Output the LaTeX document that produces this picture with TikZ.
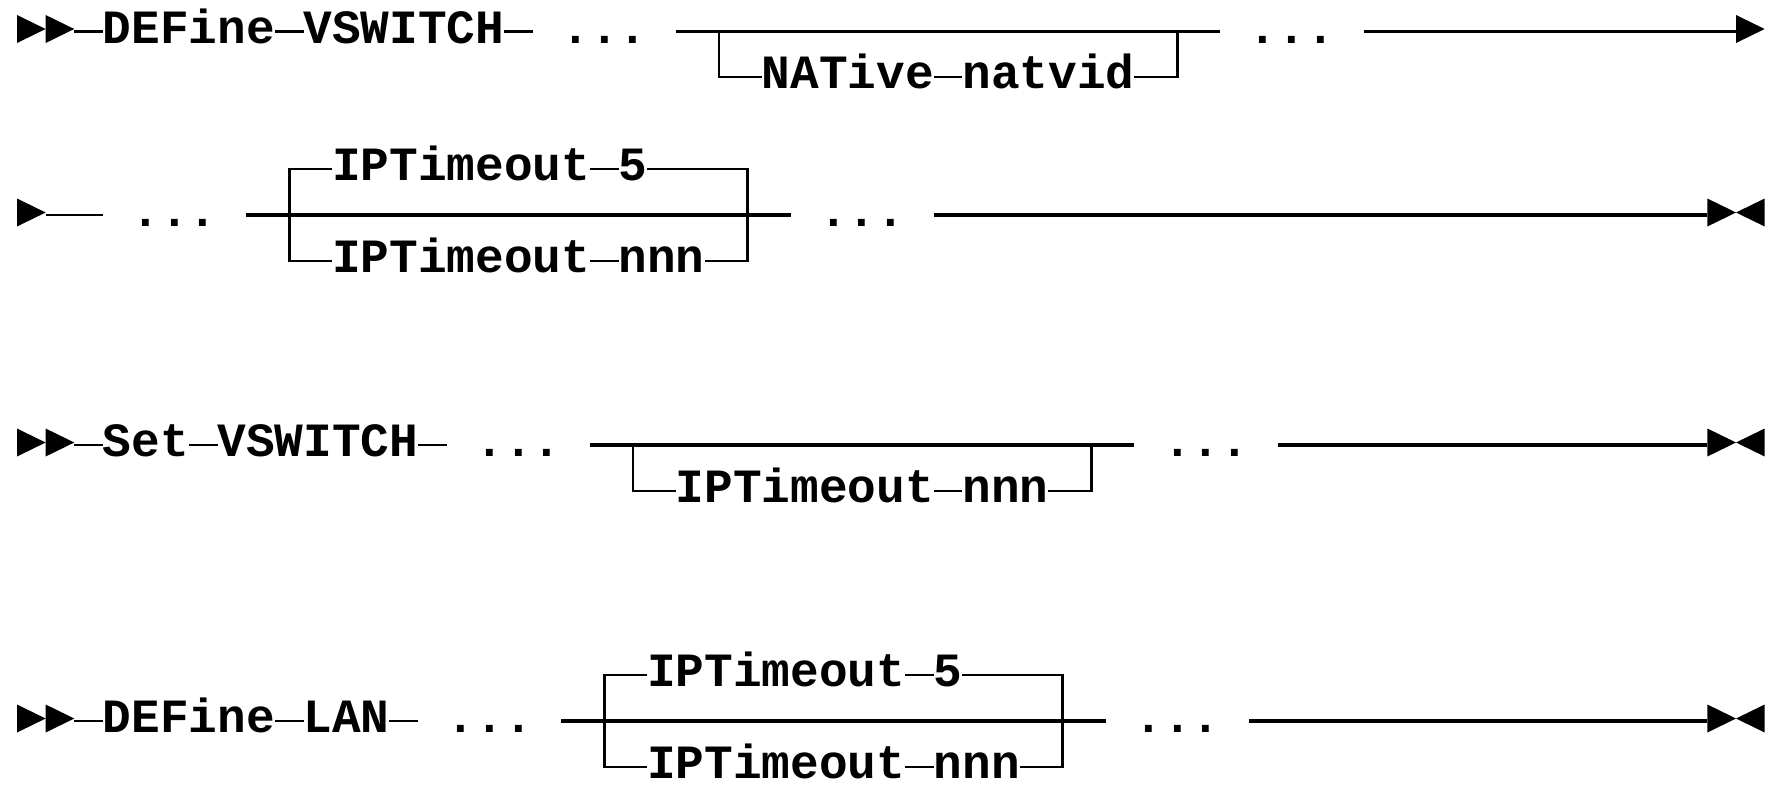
\documentclass[tikz,border=0pt]{standalone}
\usepackage{fontspec}
\newfontfamily\diagfont{Liberation Mono}
\def\cw{14.325pt}
\newcommand\rtri[2]{\fill (#1,#2-16.5) -- (#1+1,#2-2.5) -- (#1,#2+11.5) -- cycle;}
\newcommand\ltri[2]{\fill (#1+1,#2-16.5) -- (#1,#2-2.5) -- (#1+1,#2+11.5) -- cycle;}
\tikzset{
  kw/.style={inner sep=0pt, outer sep=0pt, anchor=west, text height=11.5pt, text depth=0pt,
    font=\diagfont\bfseries\fontsize{23.875pt}{28pt}\selectfont},
  mainln/.style={line width=1.8pt},
  dashln/.style={line width=1.4pt},
  branchln/.style={line width=1.4pt}
}
\begin{document}
\begin{tikzpicture}[x=14.325pt,y=-0.5pt]
\useasboundingbox (-0.5934,0) rectangle (61.361,793);

% ---------- Line 1 ----------
\rtri{0}{31.5}\rtri{1}{31.5}
\coordinate (a0) at (2,31.5);
\node[kw] (a1) at (3,31.5) {DEFine};
\node[kw] (a2) at (10,31.5) {VSWITCH};
\coordinate (a2e) at (18,31.5);
\node[kw] (a3) at (19,31.5) {...};
\node[kw] (a4) at (43,31.5) {...};
\node[kw] (a5) at (26,77) {NATive};
\node[kw] (a6) at (33,77) {natvid};
\coordinate (a8) at (24.5,31.5);
\coordinate (a9) at (40.5,31.5);
\coordinate (a7) at (60,31.5);
\draw[dashln] (a0) -- (a1) (a1) -- (a2) (a2) -- (a2e);
\draw[mainln] ([xshift=\cw]a3.east) -- ([xshift=-\cw]a4.west);
\draw[branchln] (a8) |- (a5);
\draw[dashln] (a5) -- (a6);
\draw[branchln] (a6) -| (a9);
\draw[mainln] ([xshift=\cw]a4.east) -- (a7);
\rtri{60}{31.5}

% ---------- Line 2 ----------
\rtri{0}{215}
\coordinate (b0) at (1,215);
\node[kw] (b1) at (4,215) {...};
\node[kw] (b2) at (28,215) {...};
\coordinate (b3) at (9.5,215);
\coordinate (b4) at (25.5,215);
\node[kw] (b5) at (11,169) {IPTimeout};
\node[kw] (b6) at (21,169) {5};
\node[kw] (b7) at (11,261) {IPTimeout};
\node[kw] (b8) at (21,261) {nnn};
\coordinate (b9) at (59,215);
\draw[dashln] (b0) -- ([xshift=-\cw]b1.west);
\draw[mainln] ([xshift=\cw]b1.east) -- ([xshift=-\cw]b2.west);
\draw[branchln] (b5) -| (b3) |- (b7);
\draw[dashln] (b5) -- (b6) (b7) -- (b8);
\draw[branchln] (b6) -| (b4) |- (b8);
\draw[mainln] ([xshift=\cw]b2.east) -- (b9);
\rtri{59}{215}\ltri{60}{215}

% ---------- Line 3 ----------
\rtri{0}{445}\rtri{1}{445}
\coordinate (c0) at (2,445);
\node[kw] (c1) at (3,445) {Set};
\node[kw] (c2) at (7,445) {VSWITCH};
\coordinate (c2e) at (15,445);
\node[kw] (c3) at (16,445) {...};
\node[kw] (c4) at (40,445) {...};
\coordinate (c5) at (21.5,445);
\coordinate (c6) at (37.5,445);
\node[kw] (c7) at (23,491) {IPTimeout};
\node[kw] (c8) at (33,491) {nnn};
\coordinate (c9) at (59,445);
\draw[dashln] (c0) -- (c1) (c1) -- (c2) (c2) -- (c2e);
\draw[mainln] ([xshift=\cw]c3.east) -- ([xshift=-\cw]c4.west);
\draw[branchln] (c5) |- (c7);
\draw[dashln] (c7) -- (c8);
\draw[branchln] (c8) -| (c6);
\draw[mainln] ([xshift=\cw]c4.east) -- (c9);
\rtri{59}{445}\ltri{60}{445}

% ---------- Line 4 ----------
\rtri{0}{721}\rtri{1}{721}
\coordinate (d0) at (2,721);
\node[kw] (d1) at (3,721) {DEFine};
\node[kw] (d2) at (10,721) {LAN};
\coordinate (d2e) at (14,721);
\node[kw] (d3) at (15,721) {...};
\node[kw] (d4) at (39,721) {...};
\coordinate (d5) at (20.5,721);
\coordinate (d6) at (36.5,721);
\node[kw] (d7) at (22,675) {IPTimeout};
\node[kw] (d8) at (32,675) {5};
\node[kw] (d9) at (22,767) {IPTimeout};
\node[kw] (d10) at (32,767) {nnn};
\coordinate (d11) at (59,721);
\draw[dashln] (d0) -- (d1) (d1) -- (d2) (d2) -- (d2e);
\draw[mainln] ([xshift=\cw]d3.east) -- ([xshift=-\cw]d4.west);
\draw[branchln] (d7) -| (d5) |- (d9);
\draw[dashln] (d7) -- (d8) (d9) -- (d10);
\draw[branchln] (d8) -| (d6) |- (d10);
\draw[mainln] ([xshift=\cw]d4.east) -- (d11);
\rtri{59}{721}\ltri{60}{721}
\end{tikzpicture}
\end{document}
